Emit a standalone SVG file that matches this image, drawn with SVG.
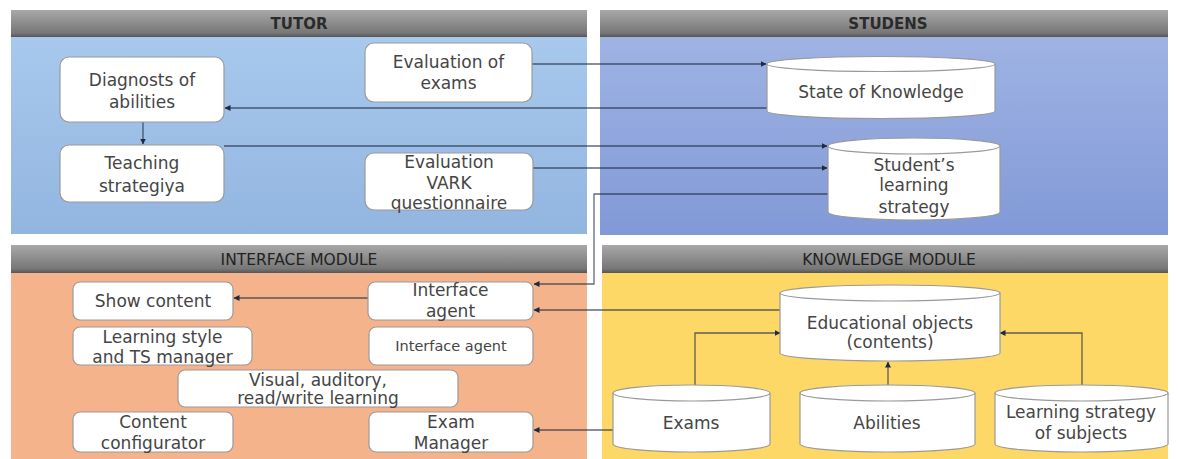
<svg xmlns="http://www.w3.org/2000/svg" width="1178" height="459" viewBox="0 0 1178 459">
<style>
.hdr{fill:url(#gHdr)}
.t{font-family:"DejaVu Sans",sans-serif;font-size:17px;fill:#454545;text-anchor:middle}
.ts{font-size:14.5px}
.h{font-family:"DejaVu Sans",sans-serif;font-size:15px;font-weight:bold;fill:#2b2b2b;text-anchor:middle}
.hn{font-weight:normal;font-size:15.5px;fill:#222}
.box{fill:#fff;stroke:#9a9a9a;stroke-width:1.2}
.cyl{fill:#fff;stroke:#9a9a9a;stroke-width:1.2}
.cylt{fill:none;stroke:#9a9a9a;stroke-width:1.2}
.c{fill:none;stroke:#1e2a40;stroke-opacity:0.7;stroke-width:1.3}
.ca{marker-end:url(#arr)}
</style>
<defs>
<linearGradient id="gHdr" x1="0" y1="0" x2="0" y2="1">
<stop offset="0" stop-color="#a8a8a8"/><stop offset="0.85" stop-color="#777"/><stop offset="1" stop-color="#555"/>
</linearGradient>
<linearGradient id="gTut" x1="0" y1="0" x2="0" y2="1">
<stop offset="0" stop-color="#a8c9ed"/><stop offset="1" stop-color="#92b5e0"/>
</linearGradient>
<linearGradient id="gStu" x1="0" y1="0" x2="0" y2="1">
<stop offset="0" stop-color="#9fb3e3"/><stop offset="1" stop-color="#8199d7"/>
</linearGradient>
<marker id="arr" viewBox="0 0 6 6" refX="5.5" refY="3" markerWidth="6" markerHeight="6" markerUnits="userSpaceOnUse" orient="auto">
<path d="M0,0 L6,3 L0,6 z" fill="#1e2a40"/>
</marker>
</defs>

<g id="panel-tutor">
<rect x="11" y="37" width="576" height="197" fill="url(#gTut)"/>
<rect class="hdr" x="11" y="10" width="576" height="27"/>
<text class="h" x="299" y="29">TUTOR</text>
</g>
<g id="panel-students">
<rect x="600" y="37" width="568" height="198" fill="url(#gStu)"/>
<rect class="hdr" x="600" y="10" width="568" height="27"/>
<text class="h" x="888" y="29">STUDENS</text>
</g>
<g id="panel-interface">
<rect x="11" y="273" width="576" height="186" fill="#f5b38c"/>
<rect class="hdr" x="11" y="245" width="576" height="28"/>
<text class="h hn" x="299" y="265">INTERFACE MODULE</text>
</g>
<g id="panel-knowledge">
<rect x="602" y="273" width="566" height="186" fill="#fed867"/>
<rect class="hdr" x="602" y="245" width="566" height="28"/>
<text class="h hn" x="889" y="265">KNOWLEDGE MODULE</text>
</g>

<g id="connectors">
<path class="c ca" d="M532,64 H766"/>
<path class="c ca" d="M767,108 H225"/>
<path class="c ca" d="M143,122 V144"/>
<path class="c ca" d="M224,146 H827"/>
<path class="c ca" d="M533,168 H827"/>
<path class="c ca" d="M828,194 H594 V284 H534"/>
<path class="c ca" d="M780,310 H534"/>
<path class="c ca" d="M368,298 H234"/>
<path class="c ca" d="M613,430 H534"/>
<path class="c ca" d="M695,385 V333 H780"/>
<path class="c ca" d="M888,385 V362"/>
<path class="c ca" d="M1082,385 V333 H1000"/>
</g>

<g id="diagnosts">
<rect class="box" x="60" y="57" width="164" height="65" rx="9"/>
<text class="t" x="142" y="86">Diagnosts of</text>
<text class="t" x="142" y="108">abilities</text>
</g>
<g id="eval-exams">
<rect class="box" x="365" y="43" width="167" height="59" rx="9"/>
<text class="t" x="448.5" y="68">Evaluation of</text>
<text class="t" x="448.5" y="89">exams</text>
</g>
<g id="teaching">
<rect class="box" x="60" y="145" width="164" height="57" rx="9"/>
<text class="t" x="142" y="169">Teaching</text>
<text class="t" x="142" y="192">strategiya</text>
</g>
<g id="eval-vark">
<rect class="box" x="365" y="153" width="168" height="57" rx="9"/>
<text class="t" x="449" y="168">Evaluation</text>
<text class="t" x="449" y="189">VARK</text>
<text class="t" x="449" y="209">questionnaire</text>
</g>

<g id="state-knowledge">
<path class="cyl" d="M767,64 A114,7.5 0 0,1 995,64 V111 A114,7.5 0 0,1 767,111 Z"/>
<path class="cylt" d="M767,64 A114,7.5 0 0,0 995,64"/>
<text class="t" x="881" y="98">State of Knowledge</text>
</g>
<g id="student-strategy">
<path class="cyl" d="M828,146 A86,8 0 0,1 1000,146 V212 A86,8 0 0,1 828,212 Z"/>
<path class="cylt" d="M828,146 A86,8 0 0,0 1000,146"/>
<text class="t" x="914" y="171">Student’s</text>
<text class="t" x="914" y="191">learning</text>
<text class="t" x="914" y="213">strategy</text>
</g>

<g id="show-content">
<rect class="box" x="73" y="282" width="160" height="38" rx="7"/>
<text class="t" x="153" y="307">Show content</text>
</g>
<g id="interface-agent">
<rect class="box" x="368" y="282" width="165" height="38" rx="7"/>
<text class="t" x="450.5" y="296">Interface</text>
<text class="t" x="450.5" y="317">agent</text>
</g>
<g id="ls-manager">
<rect class="box" x="73" y="327" width="179" height="38" rx="7"/>
<text class="t" x="162.5" y="343">Learning style</text>
<text class="t" x="162.5" y="363">and TS manager</text>
</g>
<g id="interface-agent-2">
<rect class="box" x="369" y="327" width="164" height="38" rx="7"/>
<text class="t ts" x="451" y="351">Interface agent</text>
</g>
<g id="vark-learning">
<rect class="box" x="178" y="370" width="280" height="37" rx="7"/>
<text class="t" x="318" y="386">Visual, auditory,</text>
<text class="t" x="318" y="404">read/write learning</text>
</g>
<g id="content-configurator">
<rect class="box" x="73" y="412" width="160" height="40" rx="7"/>
<text class="t" x="153" y="428">Content</text>
<text class="t" x="153" y="449">configurator</text>
</g>
<g id="exam-manager">
<rect class="box" x="369" y="412" width="164" height="40" rx="7"/>
<text class="t" x="451" y="428">Exam</text>
<text class="t" x="451" y="449">Manager</text>
</g>

<g id="educational-objects">
<path class="cyl" d="M780,293 A110,8 0 0,1 1000,293 V353 A110,8 0 0,1 780,353 Z"/>
<path class="cylt" d="M780,293 A110,8 0 0,0 1000,293"/>
<text class="t" x="890" y="329">Educational objects</text>
<text class="t" x="890" y="348">(contents)</text>
</g>
<g id="exams">
<path class="cyl" d="M613,393 A78.5,8 0 0,1 770,393 V444 A78.5,8 0 0,1 613,444 Z"/>
<path class="cylt" d="M613,393 A78.5,8 0 0,0 770,393"/>
<text class="t" x="691" y="429">Exams</text>
</g>
<g id="abilities">
<path class="cyl" d="M800,393 A87.5,8 0 0,1 975,393 V444 A87.5,8 0 0,1 800,444 Z"/>
<path class="cylt" d="M800,393 A87.5,8 0 0,0 975,393"/>
<text class="t" x="887" y="429">Abilities</text>
</g>
<g id="learning-strategy-subjects">
<path class="cyl" d="M995,393 A86.5,8 0 0,1 1168,393 V444 A86.5,8 0 0,1 995,444 Z"/>
<path class="cylt" d="M995,393 A86.5,8 0 0,0 1168,393"/>
<text class="t" x="1081" y="418">Learning strategy</text>
<text class="t" x="1081" y="439">of subjects</text>
</g>
</svg>
